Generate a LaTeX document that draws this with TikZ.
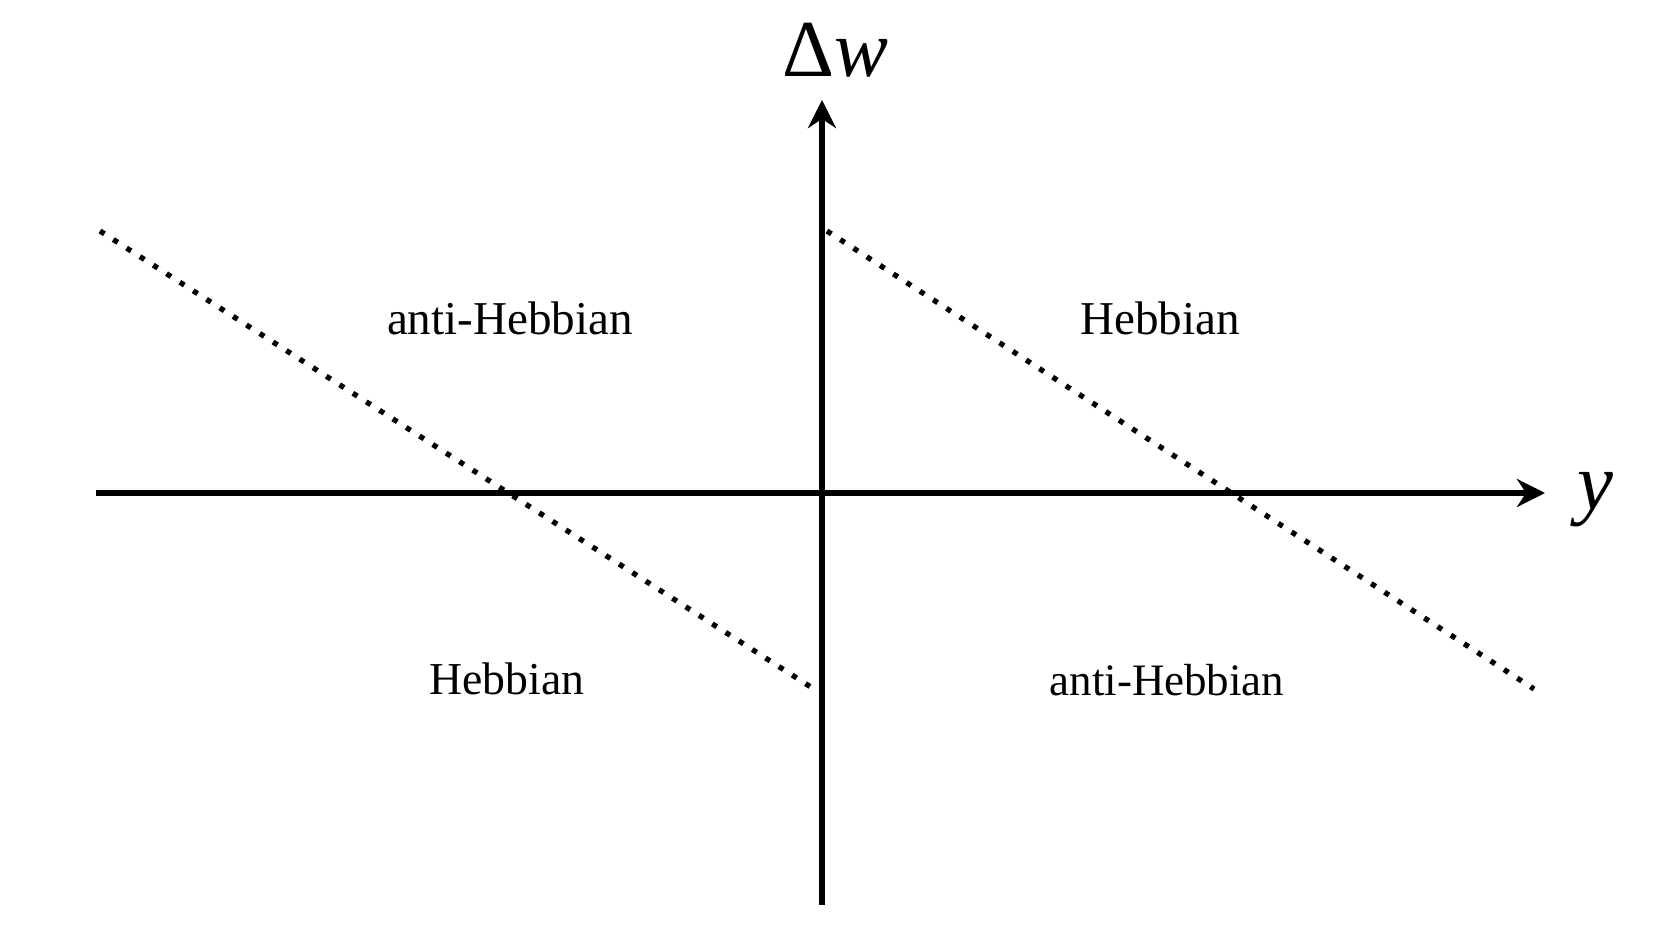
\documentclass[tikz,border=0pt]{standalone}
\usepackage{fontspec}
\setmainfont{Liberation Serif}
\usetikzlibrary{arrows.meta}

\begin{document}
\begin{tikzpicture}[>={Stealth[length=2.8mm,width=2.8mm,inset=0.9mm]},
  axis/.style={line width=1.5pt},
  sep/.style={line width=1.5pt, dash pattern=on 1.5pt off 3pt},
  region/.style={font=\fontsize{13.4}{14}\selectfont, anchor=base, inner sep=0pt},
  axlabel/.style={font=\fontsize{23}{24}\selectfont, anchor=base, inner sep=0pt}]

% background
\useasboundingbox (-8.22,-4.48) rectangle (8.50,4.93);
\fill[white] (-8.22,-4.48) rectangle (8.50,4.93);

% axes
\coordinate (xl) at (-7.26,0);
\coordinate (xr) at (7.23,0);
\coordinate (yb) at (0,-4.12);
\coordinate (yt) at (0,3.93);
\draw[axis,->] (xl) -- (xr);
\draw[axis,->] (yb) -- (yt);
\node[axlabel] (ylab) at (7.73,-0.16) {\textit{y}};
\node[axlabel] (wlab) at (0.13,4.16) {Δ\textit{w}};

% boundaries between the regions
\coordinate (la) at (-7.22,2.62);
\coordinate (lb) at (-0.05,-1.98);
\coordinate (ra) at (0.05,2.62);
\coordinate (rb) at (7.12,-1.96);
\draw[sep] (la) -- (lb);
\draw[sep] (ra) -- (rb);

% region labels
\node[region] (antiTL) at (-3.12,1.59) {anti-Hebbian};
\node[region] (hebbTR) at (3.38,1.59) {Hebbian};
\node[region, font=\fontsize{13}{14}\selectfont] (hebbBL) at (-3.15,-2.01) {Hebbian};
\node[region, font=\fontsize{12.8}{14}\selectfont] (antiBR) at (3.45,-2.02) {anti-Hebbian};

\end{tikzpicture}
\end{document}
